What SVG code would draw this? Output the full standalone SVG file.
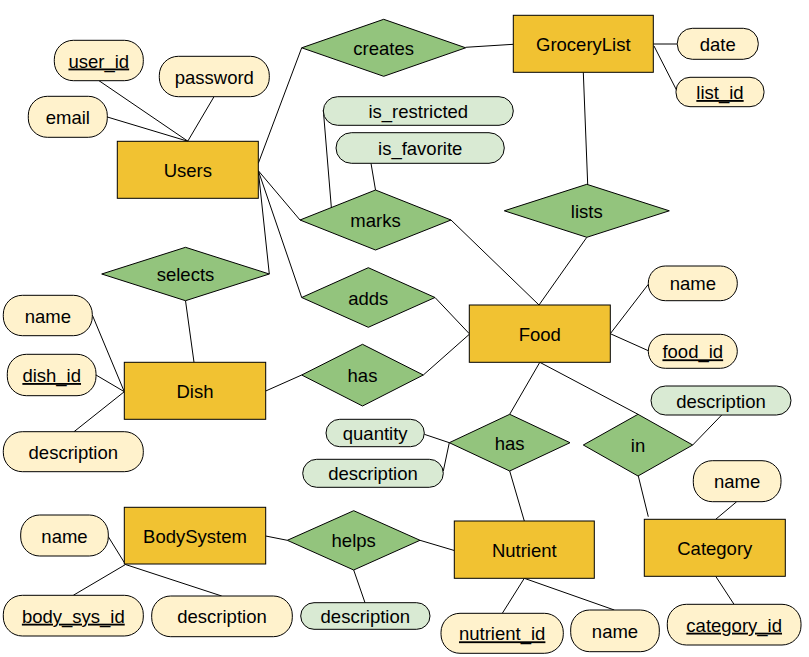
<svg xmlns="http://www.w3.org/2000/svg" width="809" height="657" viewBox="0 0 809 657">
<style>
text{font-family:"Liberation Sans",Arial,sans-serif;font-size:18.5px;fill:#000;text-anchor:middle}
.u{text-decoration:underline}
.ent{fill:#f1c232;stroke:#000;stroke-width:1}
.rel{fill:#93c47d;stroke:#000;stroke-width:1}
.att{fill:#fff2cc;stroke:#000;stroke-width:1}
.gat{fill:#d9ead3;stroke:#000;stroke-width:1}
.con line{stroke:#000;stroke-width:1}
</style>
<rect width="809" height="657" fill="#fff"/>
<g id="connectors" class="con">
<line x1="99" y1="80.7" x2="188" y2="141.3"/>
<line x1="107.3" y1="117" x2="188" y2="141.3"/>
<line x1="214" y1="96.7" x2="187.7" y2="141.3"/>
<line x1="258.3" y1="163.3" x2="301.7" y2="47.8"/>
<line x1="465.7" y1="47.3" x2="513.3" y2="44.3"/>
<line x1="653.3" y1="44" x2="677.3" y2="44"/>
<line x1="654" y1="46" x2="677" y2="91"/>
<line x1="583.3" y1="72.3" x2="587.7" y2="184.3"/>
<line x1="586.8" y1="237.3" x2="539" y2="305"/>
<line x1="323.3" y1="110" x2="331.7" y2="211.7"/>
<line x1="371" y1="163.3" x2="375.5" y2="190"/>
<line x1="258.3" y1="170.7" x2="300" y2="220"/>
<line x1="451" y1="220" x2="539" y2="305"/>
<line x1="258.3" y1="170.7" x2="269.3" y2="274"/>
<line x1="258.3" y1="170.7" x2="301.7" y2="297.5"/>
<line x1="435" y1="297.5" x2="469.3" y2="333.7"/>
<line x1="185.5" y1="300.7" x2="194" y2="362.3"/>
<line x1="265.7" y1="391" x2="301.7" y2="375"/>
<line x1="423.3" y1="375" x2="469.3" y2="334.3"/>
<line x1="92.3" y1="315" x2="124.3" y2="391.7"/>
<line x1="96" y1="375" x2="124.3" y2="391.7"/>
<line x1="74" y1="431.7" x2="124.3" y2="391.7"/>
<line x1="610.3" y1="333.7" x2="648.3" y2="284.3"/>
<line x1="610.3" y1="333.7" x2="648.3" y2="350.7"/>
<line x1="539.8" y1="362.3" x2="509.7" y2="414.3"/>
<line x1="539.8" y1="362.3" x2="638" y2="414.3"/>
<line x1="424.3" y1="434.3" x2="449.3" y2="442.7"/>
<line x1="443.3" y1="471" x2="449.3" y2="442.7"/>
<line x1="692.7" y1="445" x2="721.7" y2="415"/>
<line x1="638.3" y1="476" x2="648.3" y2="516.7"/>
<line x1="736.7" y1="501.7" x2="715.7" y2="519.3"/>
<line x1="715.7" y1="576.3" x2="734" y2="604.3"/>
<line x1="509.7" y1="471" x2="524.3" y2="521"/>
<line x1="524.3" y1="578.3" x2="502.3" y2="613.3"/>
<line x1="524.3" y1="578.3" x2="614.3" y2="610"/>
<line x1="420" y1="540.3" x2="454.3" y2="550.5"/>
<line x1="265.7" y1="536" x2="287.3" y2="540.3"/>
<line x1="353.7" y1="570" x2="365" y2="602.7"/>
<line x1="108.3" y1="536.7" x2="125.5" y2="564.5"/>
<line x1="125.5" y1="564.5" x2="73.3" y2="595.3"/>
<line x1="125.5" y1="564.5" x2="221.7" y2="596"/>
</g>
<g id="Users"><rect class="ent" x="117.3" y="141.3" width="141" height="57"/><text x="187.8" y="176.8">Users</text></g>
<g id="user_id"><rect class="att" x="54.3" y="40.3" width="89" height="40.4" rx="19"/><text class="u" x="98.8" y="67.5">user_id</text></g>
<g id="password"><rect class="att" x="159.3" y="56.3" width="110" height="40.4" rx="19"/><text x="214.3" y="83.5">password</text></g>
<g id="email"><rect class="att" x="28.3" y="96.3" width="79" height="41" rx="19"/><text x="67.8" y="123.8">email</text></g>
<g id="GroceryList"><rect class="ent" x="513.3" y="15.3" width="140" height="57"/><text x="583.3" y="50.8">GroceryList</text></g>
<g id="date"><rect class="att" x="677.3" y="28.3" width="81" height="31" rx="15"/><text x="717.8" y="50.8">date</text></g>
<g id="list_id"><rect class="att" x="676" y="77.3" width="88" height="29.4" rx="14"/><text class="u" x="720" y="99">list_id</text></g>
<g id="creates"><polygon class="rel" points="301.7,47.8 383.7,19.3 465.7,47.8 383.7,76.3"/><text x="383.7" y="54.8">creates</text></g>
<g id="is_restricted"><rect class="gat" x="323.3" y="96.7" width="190" height="28.6" rx="14.3"/><text x="418.3" y="117.8">is_restricted</text></g>
<g id="is_favorite"><rect class="gat" x="336" y="132.7" width="168.3" height="30.6" rx="15.3"/><text x="420.2" y="155">is_favorite</text></g>
<g id="marks"><polygon class="rel" points="300,220 375.5,190 451,220 375.5,250"/><text x="375.5" y="227">marks</text></g>
<g id="lists"><polygon class="rel" points="504.3,210.8 586.8,184.3 669.3,210.8 586.8,237.3"/><text x="586.8" y="217.8">lists</text></g>
<g id="selects"><polygon class="rel" points="101.7,274 185.5,247.3 269.3,274 185.5,300.7"/><text x="185.5" y="281">selects</text></g>
<g id="adds"><polygon class="rel" points="301.7,297.5 368.3,267.7 435,297.5 368.3,327.3"/><text x="368.3" y="304.5">adds</text></g>
<g id="Dish"><rect class="ent" x="124.3" y="362.3" width="141.4" height="57"/><text x="195" y="397.8">Dish</text></g>
<g id="dish_name"><rect class="att" x="3.3" y="295.3" width="89" height="40.4" rx="19"/><text x="47.8" y="322.5">name</text></g>
<g id="dish_id"><rect class="att" x="7.3" y="354.3" width="88.7" height="41.4" rx="19"/><text class="u" x="51.7" y="382">dish_id</text></g>
<g id="dish_description"><rect class="att" x="3.3" y="431.7" width="140" height="40" rx="19"/><text x="73.3" y="458.7">description</text></g>
<g id="has_dish"><polygon class="rel" points="301.7,375 362.5,344.3 423.3,375 362.5,406"/><text x="362.5" y="382">has</text></g>
<g id="Food"><rect class="ent" x="469.3" y="305" width="141" height="57.3"/><text x="539.8" y="340.7">Food</text></g>
<g id="food_name"><rect class="att" x="648.3" y="266" width="89" height="34.7" rx="17"/><text x="692.8" y="290.4">name</text></g>
<g id="food_id"><rect class="att" x="648.3" y="334.3" width="89" height="34" rx="17"/><text class="u" x="692.8" y="358.3">food_id</text></g>
<g id="has_nutrient"><polygon class="rel" points="449.3,442.7 509.7,414.3 570,442.7 509.7,471"/><text x="509.7" y="449.7">has</text></g>
<g id="quantity"><rect class="gat" x="326" y="419.3" width="98.3" height="27.4" rx="13.7"/><text x="375.2" y="440">quantity</text></g>
<g id="has_description"><rect class="gat" x="302.7" y="459.3" width="140.6" height="28" rx="14"/><text x="373" y="480.3">description</text></g>
<g id="in"><polygon class="rel" points="583.3,445 638,414.3 692.7,445 638,476"/><text x="638" y="452">in</text></g>
<g id="in_description"><rect class="gat" x="651" y="386" width="140" height="29" rx="14.5"/><text x="721" y="407.5">description</text></g>
<g id="Category"><rect class="ent" x="644.3" y="519.3" width="141" height="57"/><text x="714.8" y="554.8">Category</text></g>
<g id="category_name"><rect class="att" x="693.3" y="460.7" width="87.7" height="41" rx="19"/><text x="737.2" y="488.2">name</text></g>
<g id="category_id"><rect class="att" x="667.3" y="604.3" width="133.7" height="40.7" rx="19"/><text class="u" x="734.2" y="631.7">category_id</text></g>
<g id="Nutrient"><rect class="ent" x="454.3" y="521" width="140" height="57.3"/><text x="524.3" y="556.7">Nutrient</text></g>
<g id="nutrient_id"><rect class="att" x="441" y="613.3" width="122.3" height="40" rx="19"/><text class="u" x="502.2" y="640.3">nutrient_id</text></g>
<g id="nutrient_name"><rect class="att" x="570.7" y="610" width="88.6" height="41.7" rx="19"/><text x="615" y="637.8">name</text></g>
<g id="helps"><polygon class="rel" points="287.3,540.3 353.7,510.7 420,540.3 353.7,570"/><text x="353.7" y="547.3">helps</text></g>
<g id="helps_description"><rect class="gat" x="300.7" y="602.7" width="129.3" height="26.6" rx="13.3"/><text x="365.3" y="623">description</text></g>
<g id="BodySystem"><rect class="ent" x="124.3" y="507.3" width="141.4" height="56.7"/><text x="195" y="542.7">BodySystem</text></g>
<g id="bs_name"><rect class="att" x="20.7" y="515" width="87.6" height="41" rx="19"/><text x="64.5" y="542.5">name</text></g>
<g id="body_sys_id"><rect class="att" x="3.3" y="595.3" width="140" height="40.7" rx="19"/><text class="u" x="73.3" y="622.7">body_sys_id</text></g>
<g id="bs_description"><rect class="att" x="151.7" y="596" width="140.6" height="40.7" rx="19"/><text x="222" y="623.3">description</text></g>
</svg>
